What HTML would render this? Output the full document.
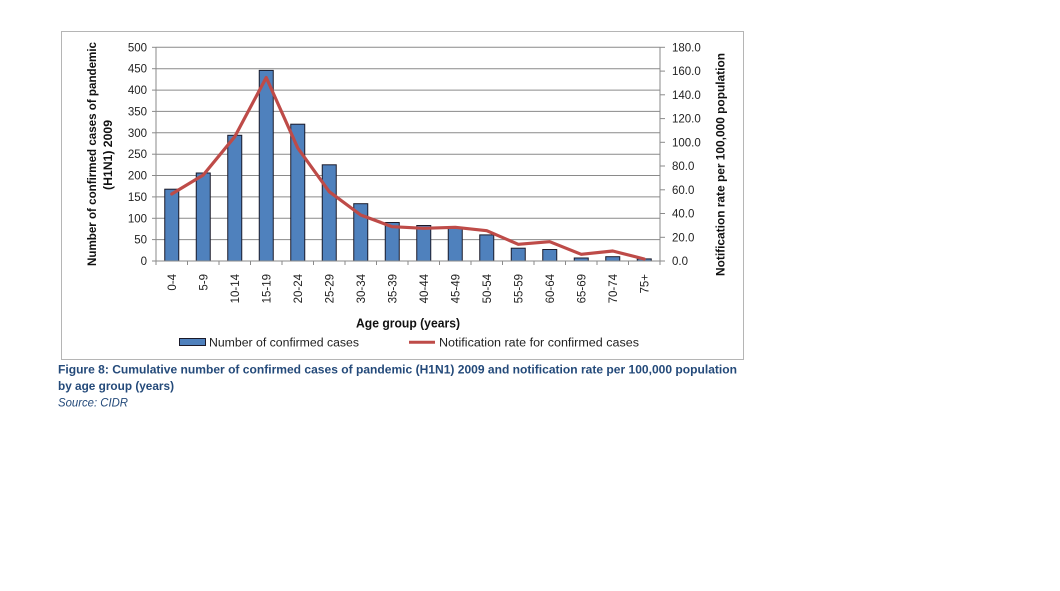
<!DOCTYPE html>
<html>
<head>
<meta charset="utf-8">
<style>
  html, body { margin: 0; padding: 0; background: #ffffff; }
  body { width: 1060px; height: 591px; overflow: hidden; }
  svg { display: block; font-family: "Liberation Sans", Arial, sans-serif; }
</style>
</head>
<body>
<svg width="1060" height="591" viewBox="0 0 1060 591" xmlns="http://www.w3.org/2000/svg">
  <rect x="0" y="0" width="1060" height="591" fill="#ffffff"/>
  <!-- chart border -->
  <rect x="61.5" y="31.5" width="682" height="328" fill="#ffffff" stroke="#b5b5b5" stroke-width="1"/>

  <!-- gridlines -->
  <g stroke="#8a8a8a" stroke-width="1">
    <line x1="156" y1="239.6" x2="660" y2="239.6"/>
    <line x1="156" y1="218.3" x2="660" y2="218.3"/>
    <line x1="156" y1="196.9" x2="660" y2="196.9"/>
    <line x1="156" y1="175.5" x2="660" y2="175.5"/>
    <line x1="156" y1="154.2" x2="660" y2="154.2"/>
    <line x1="156" y1="132.8" x2="660" y2="132.8"/>
    <line x1="156" y1="111.4" x2="660" y2="111.4"/>
    <line x1="156" y1="90.1" x2="660" y2="90.1"/>
    <line x1="156" y1="68.7" x2="660" y2="68.7"/>
    <line x1="156" y1="47.3" x2="660" y2="47.3"/>
  </g>

  <!-- bars -->
  <g fill="#4f81bd" stroke="#1a1a2a" stroke-width="1">
    <rect x="164.75" y="189.2" width="14" height="71.8"/>
    <rect x="196.25" y="173.0" width="14" height="88.0"/>
    <rect x="227.75" y="135.3" width="14" height="125.7"/>
    <rect x="259.25" y="70.4" width="14" height="190.6"/>
    <rect x="290.75" y="124.2" width="14" height="136.8"/>
    <rect x="322.25" y="164.8" width="14" height="96.2"/>
    <rect x="353.75" y="203.7" width="14" height="57.3"/>
    <rect x="385.25" y="222.5" width="14" height="38.5"/>
    <rect x="416.75" y="225.5" width="14" height="35.5"/>
    <rect x="448.25" y="227.2" width="14" height="33.8"/>
    <rect x="479.75" y="234.9" width="14" height="26.1"/>
    <rect x="511.25" y="248.2" width="14" height="12.8"/>
    <rect x="542.75" y="249.5" width="14" height="11.5"/>
    <rect x="574.25" y="258.0" width="14" height="3.0"/>
    <rect x="605.75" y="256.7" width="14" height="4.3"/>
    <rect x="637.25" y="258.9" width="14" height="2.1"/>
  </g>

  <!-- axes -->
  <g stroke="#8a8a8a" stroke-width="1" fill="none">
    <line x1="156" y1="47.3" x2="156" y2="261"/>
    <line x1="660" y1="47.3" x2="660" y2="261"/>
    <line x1="152" y1="261" x2="665" y2="261"/>
    <!-- left ticks -->
    <line x1="152" y1="239.6" x2="156" y2="239.6"/>
    <line x1="152" y1="218.3" x2="156" y2="218.3"/>
    <line x1="152" y1="196.9" x2="156" y2="196.9"/>
    <line x1="152" y1="175.5" x2="156" y2="175.5"/>
    <line x1="152" y1="154.2" x2="156" y2="154.2"/>
    <line x1="152" y1="132.8" x2="156" y2="132.8"/>
    <line x1="152" y1="111.4" x2="156" y2="111.4"/>
    <line x1="152" y1="90.1" x2="156" y2="90.1"/>
    <line x1="152" y1="68.7" x2="156" y2="68.7"/>
    <line x1="152" y1="47.3" x2="156" y2="47.3"/>
    <!-- right ticks -->
    <line x1="660" y1="237.3" x2="665" y2="237.3"/>
    <line x1="660" y1="213.5" x2="665" y2="213.5"/>
    <line x1="660" y1="189.8" x2="665" y2="189.8"/>
    <line x1="660" y1="166.0" x2="665" y2="166.0"/>
    <line x1="660" y1="142.3" x2="665" y2="142.3"/>
    <line x1="660" y1="118.6" x2="665" y2="118.6"/>
    <line x1="660" y1="94.8" x2="665" y2="94.8"/>
    <line x1="660" y1="71.1" x2="665" y2="71.1"/>
    <line x1="660" y1="47.3" x2="665" y2="47.3"/>
    <!-- x ticks -->
    <line x1="156" y1="261" x2="156" y2="265"/>
    <line x1="187.5" y1="261" x2="187.5" y2="265"/>
    <line x1="219" y1="261" x2="219" y2="265"/>
    <line x1="250.5" y1="261" x2="250.5" y2="265"/>
    <line x1="282" y1="261" x2="282" y2="265"/>
    <line x1="313.5" y1="261" x2="313.5" y2="265"/>
    <line x1="345" y1="261" x2="345" y2="265"/>
    <line x1="376.5" y1="261" x2="376.5" y2="265"/>
    <line x1="408" y1="261" x2="408" y2="265"/>
    <line x1="439.5" y1="261" x2="439.5" y2="265"/>
    <line x1="471" y1="261" x2="471" y2="265"/>
    <line x1="502.5" y1="261" x2="502.5" y2="265"/>
    <line x1="534" y1="261" x2="534" y2="265"/>
    <line x1="565.5" y1="261" x2="565.5" y2="265"/>
    <line x1="597" y1="261" x2="597" y2="265"/>
    <line x1="628.5" y1="261" x2="628.5" y2="265"/>
    <line x1="660" y1="261" x2="660" y2="265"/>
  </g>

  <!-- line series -->
  <polyline fill="none" stroke="#be4b48" stroke-width="3.2" stroke-linejoin="round" stroke-linecap="round"
    points="171.75,194 203.25,175 234.75,136.7 266.25,77.5 297.75,148 329.25,191.7 360.75,215 392.25,226.7 423.75,228.3 455.25,227.3 486.75,230.7 518.25,244.3 549.75,241.7 581.25,254.3 612.75,251 644.25,259"/>

  <!-- left tick labels -->
  <g font-size="11.5" fill="#222" text-anchor="end">
    <text x="147" y="265">0</text>
    <text x="147" y="243.6">50</text>
    <text x="147" y="222.3">100</text>
    <text x="147" y="200.9">150</text>
    <text x="147" y="179.5">200</text>
    <text x="147" y="158.2">250</text>
    <text x="147" y="136.8">300</text>
    <text x="147" y="115.4">350</text>
    <text x="147" y="94.1">400</text>
    <text x="147" y="72.7">450</text>
    <text x="147" y="51.3">500</text>
  </g>

  <!-- right tick labels -->
  <g font-size="11.5" fill="#222">
    <text x="672" y="265">0.0</text>
    <text x="672" y="241.3">20.0</text>
    <text x="672" y="217.5">40.0</text>
    <text x="672" y="193.8">60.0</text>
    <text x="672" y="170.0">80.0</text>
    <text x="672" y="146.3">100.0</text>
    <text x="672" y="122.6">120.0</text>
    <text x="672" y="98.8">140.0</text>
    <text x="672" y="75.1">160.0</text>
    <text x="672" y="51.3">180.0</text>
  </g>

  <!-- x labels -->
  <g font-size="11.5" fill="#222" text-anchor="end">
    <text transform="translate(175.75,274) rotate(-90)">0-4</text>
    <text transform="translate(207.25,274) rotate(-90)">5-9</text>
    <text transform="translate(238.75,274) rotate(-90)">10-14</text>
    <text transform="translate(270.25,274) rotate(-90)">15-19</text>
    <text transform="translate(301.75,274) rotate(-90)">20-24</text>
    <text transform="translate(333.25,274) rotate(-90)">25-29</text>
    <text transform="translate(364.75,274) rotate(-90)">30-34</text>
    <text transform="translate(396.25,274) rotate(-90)">35-39</text>
    <text transform="translate(427.75,274) rotate(-90)">40-44</text>
    <text transform="translate(459.25,274) rotate(-90)">45-49</text>
    <text transform="translate(490.75,274) rotate(-90)">50-54</text>
    <text transform="translate(522.25,274) rotate(-90)">55-59</text>
    <text transform="translate(553.75,274) rotate(-90)">60-64</text>
    <text transform="translate(585.25,274) rotate(-90)">65-69</text>
    <text transform="translate(616.75,274) rotate(-90)">70-74</text>
    <text transform="translate(648.25,274) rotate(-90)">75+</text>
  </g>

  <!-- axis titles -->
  <g font-size="12" font-weight="bold" fill="#111" text-anchor="middle">
    <text transform="translate(96,154) rotate(-90)" textLength="224" lengthAdjust="spacingAndGlyphs">Number of confirmed cases of  pandemic</text>
    <text transform="translate(112,155) rotate(-90)" textLength="70" lengthAdjust="spacingAndGlyphs">(H1N1) 2009</text>
    <text transform="translate(724.5,164.5) rotate(-90)" textLength="223" lengthAdjust="spacingAndGlyphs">Notification rate per 100,000 population</text>
    <text x="408" y="327.5" font-size="12.5" textLength="104" lengthAdjust="spacingAndGlyphs">Age group (years)</text>
  </g>

  <!-- legend -->
  <rect x="179.5" y="338.5" width="26" height="7" fill="#4f81bd" stroke="#1a1a2a" stroke-width="1"/>
  <text x="209" y="346.5" font-size="11.5" fill="#222" textLength="150" lengthAdjust="spacingAndGlyphs">Number of confirmed cases</text>
  <line x1="409" y1="342.3" x2="435" y2="342.3" stroke="#be4b48" stroke-width="3"/>
  <text x="439" y="346.5" font-size="11.5" fill="#222" textLength="200" lengthAdjust="spacingAndGlyphs">Notification rate for confirmed cases</text>

  <!-- caption -->
  <g fill="#244a7a" font-size="12">
    <text x="58" y="373.5" font-weight="bold" textLength="679" lengthAdjust="spacingAndGlyphs">Figure 8: Cumulative number of confirmed cases of pandemic (H1N1) 2009 and notification rate per 100,000 population</text>
    <text x="58" y="390" font-weight="bold" textLength="116" lengthAdjust="spacingAndGlyphs">by age group (years)</text>
    <text x="58" y="406.5" font-style="italic" textLength="70" lengthAdjust="spacingAndGlyphs">Source: CIDR</text>
  </g>
</svg>
</body>
</html>
